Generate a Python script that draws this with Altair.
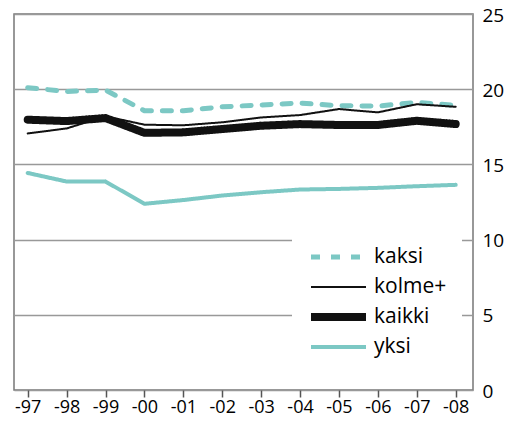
import altair as alt
import pandas as pd

years = ["-97", "-98", "-99", "-00", "-01", "-02", "-03", "-04", "-05", "-06", "-07", "-08"]
series = ["kaksi", "kolme+", "kaikki", "yksi"]
kaksi = [20.1, 19.85, 19.94, 18.57, 18.57, 18.83, 18.95, 19.08, 18.9, 18.88, 19.12, 18.92]
kolme = [17.06, 17.39, 18.2, 17.64, 17.6, 17.8, 18.12, 18.28, 18.68, 18.46, 19.0, 18.83]
kaikki = [17.97, 17.88, 18.08, 17.1, 17.13, 17.35, 17.57, 17.68, 17.62, 17.62, 17.9, 17.68]
yksi = [14.43, 13.86, 13.86, 12.38, 12.63, 12.93, 13.15, 13.33, 13.37, 13.44, 13.55, 13.64]

values = {"kaksi": kaksi, "kolme+": kolme, "kaikki": kaikki, "yksi": yksi}
rows = []
for s in series:
    for i, v in enumerate(values[s]):
        rows.append({"i": i, "vuosi": years[i], "sarja": s, "arvo": v})
df = pd.DataFrame(rows)

teal = "#7cc8c4"
label_expr = "[" + ",".join("'%s'" % y for y in years) + "][datum.value]"

chart = alt.Chart(df).mark_line(strokeCap="round", strokeJoin="round").encode(
    x=alt.X("i:Q", scale=alt.Scale(domain=[-0.352, 11.445], nice=False, zero=False),
            axis=alt.Axis(values=list(range(12)), labelExpr=label_expr, title=None,
                          grid=False, domain=False, ticks=True, tickSize=7,
                          tickColor="#555", tickWidth=1.5, labelFontSize=18,
                          labelColor="black", labelFont="Open Sans", labelPadding=1)),
    y=alt.Y("arvo:Q", scale=alt.Scale(domain=[0, 25], nice=False),
            axis=alt.Axis(orient="right", values=[0, 5, 10, 15, 20, 25], title=None,
                          grid=True, gridColor="#999", gridWidth=1.5, domain=False,
                          ticks=False, labelPadding=9, labelFontSize=19, labelOffset=1,
                          labelColor="black", labelFont="Open Sans")),
    color=alt.Color("sarja:N", scale=alt.Scale(domain=series, range=[teal, "#111", "#111", teal]), title=None),
    strokeDash=alt.StrokeDash("sarja:N", scale=alt.Scale(domain=series, range=[[9, 11], [1, 0], [1, 0], [1, 0]]), title=None),
    strokeWidth=alt.StrokeWidth("sarja:N", scale=alt.Scale(type="ordinal", domain=series, range=[5, 2, 8, 4]), title=None),
    detail="sarja:N",
).properties(
    width=459, height=376,
    autosize=alt.AutoSizeParams(type="none"),
    padding={"left": 6, "top": 6, "right": 33, "bottom": 32},
).configure_view(
    stroke="#777", strokeWidth=1.5
).configure_legend(
    orient="none", legendX=278, legendY=213, fillColor="white", padding=15,
    labelFontSize=21, labelFont="Open Sans", labelColor="black",
    symbolType="stroke", symbolSize=3025, rowPadding=0, clipHeight=30, labelOffset=4,
)

chart.save("out.html", embed_options={"renderer": "svg", "actions": False})
